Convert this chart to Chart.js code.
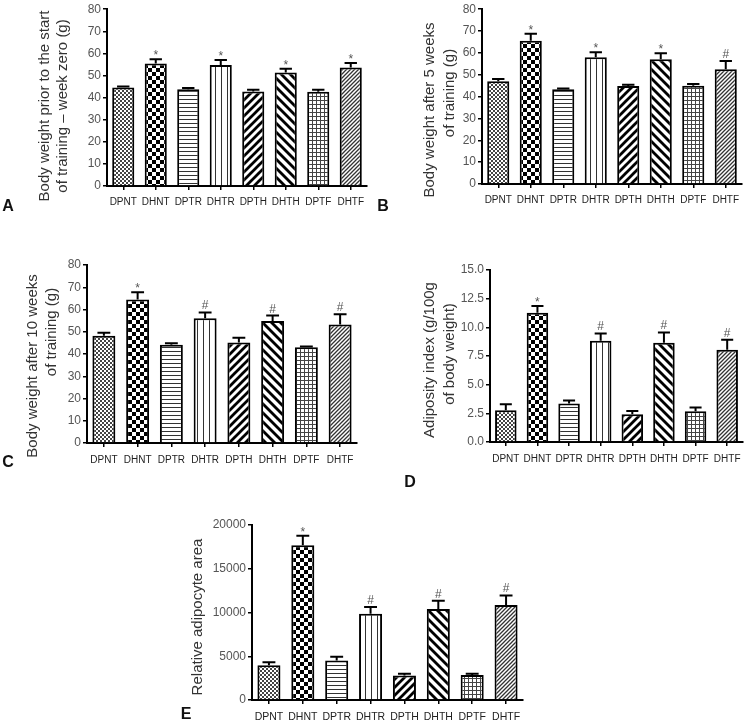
<!DOCTYPE html>
<html><head><meta charset="utf-8">
<script src="https://cdn.jsdelivr.net/npm/chart.js@4/dist/chart.umd.min.js"></script>
<style>
html,body{margin:0;padding:0;background:#fff;width:750px;height:728px;overflow:hidden;position:relative}
canvas{position:absolute}
.lbl{position:absolute;font:bold 16px 'Liberation Sans Narrow','Liberation Sans',Arial,sans-serif;color:#111;transform:translate(-50%,-50%);line-height:1}
</style></head><body>
<canvas id="cA" width="375" height="215" style="left:0;top:0"></canvas>
<canvas id="cB" width="375" height="215" style="left:375px;top:0"></canvas>
<canvas id="cC" width="375" height="230" style="left:0;top:240px"></canvas>
<canvas id="cD" width="375" height="230" style="left:375px;top:240px"></canvas>
<canvas id="cE" width="380" height="258" style="left:180px;top:470px"></canvas>
<div class="lbl" style="left:8px;top:206px">A</div>
<div class="lbl" style="left:383px;top:206px">B</div>
<div class="lbl" style="left:8px;top:462px">C</div>
<div class="lbl" style="left:410px;top:482px">D</div>
<div class="lbl" style="left:186px;top:714px">E</div>
<script>
// ---- data ----
const categories = ['DPNT','DHNT','DPTR','DHTR','DPTH','DHTH','DPTF','DHTF'];
const patterns   = ['fineCheck','bigCheck','hLines','vLines','diagUp','diagDown','grid','fineDiag'];

const weekZero     = [44.6, 55.4, 43.8, 54.8, 42.8, 51.4, 42.7, 53.6];
const weekZeroSem  = [0.4, 2.0, 0.5, 2.2, 0.7, 1.6, 0.8, 2.0];
const weekZeroMark = ['', '*', '', '*', '', '*', '', '*'];

const week5     = [47.0, 65.6, 43.4, 58.0, 44.9, 57.1, 45.0, 52.5];
const week5Sem  = [1.1, 3.2, 0.3, 2.3, 0.5, 2.7, 0.8, 3.8];
const week5Mark = ['', '*', '', '*', '', '*', '', '#'];

const week10     = [48.2, 64.5, 44.2, 56.1, 45.2, 54.8, 43.0, 53.3];
const week10Sem  = [1.4, 3.3, 0.6, 2.6, 2.1, 2.5, 0.4, 4.6];
const week10Mark = ['', '*', '', '#', '', '#', '', '#'];

const adiposity     = [2.77, 11.27, 3.35, 8.83, 2.42, 8.65, 2.68, 8.04];
const adipositySem  = [0.52, 0.59, 0.26, 0.64, 0.29, 0.90, 0.32, 0.87];
const adiposityMark = ['', '*', '', '#', '', '#', '', '#'];

const adipocyte     = [3985, 17685, 4516, 9867, 2808, 10398, 2846, 10854];
const adipocyteSem  = [341, 1100, 418, 759, 190, 949, 152, 1100];
const adipocyteMark = ['', '*', '', '#', '', '#', '', '#'];

const weightTicks    = [0,10,20,30,40,50,60,70,80];
const adiposityTicks = [0,2.5,5,7.5,10,12.5,15];
const adipocyteTicks = [0,5000,10000,15000,20000];

// ---- patterns ----
function makePattern(ctx, type){
  const c = document.createElement('canvas');
  const g = c.getContext('2d');
  function size(n){ c.width = c.height = n; g.fillStyle='#fff'; g.fillRect(0,0,n,n); }
  function diag(n, w, col, up){
    g.strokeStyle = col; g.lineWidth = w; g.lineCap='square';
    for (const o of [-n, 0, n]) {
      g.beginPath();
      if (up) { g.moveTo(o, n); g.lineTo(o + n, 0); }
      else    { g.moveTo(o, 0); g.lineTo(o + n, n); }
      g.stroke();
    }
  }
  switch(type){
    case 'fineCheck': size(4); g.fillStyle='#444'; g.fillRect(0,0,2,2); g.fillRect(2,2,2,2); break;
    case 'bigCheck':  size(8); g.fillStyle='#000'; g.fillRect(0,0,4,4); g.fillRect(4,4,4,4); break;
    case 'hLines':    size(4); g.fillStyle='#333'; g.fillRect(0,3,4,1); break;
    case 'vLines':    size(6); g.fillStyle='#333'; g.fillRect(5,0,1,6); break;
    case 'diagUp':    size(8); diag(8, 2.8, '#000', true); break;
    case 'diagDown':  size(9); diag(9, 2.8, '#000', false); break;
    case 'grid':      size(4); g.fillStyle='#444'; g.fillRect(0,0,4,1); g.fillRect(0,0,1,4); break;
    case 'fineDiag':  size(4); diag(4, 1.3, '#333', true); break;
  }
  return ctx.createPattern(c, 'repeat');
}

// ---- plugins ----
const errorBars = {
  id: 'errorBars',
  afterDatasetsDraw(chart){
    const ctx = chart.ctx, ys = chart.scales.y;
    chart.data.datasets.forEach((ds, di) => {
      const meta = chart.getDatasetMeta(di);
      meta.data.forEach((bar, i) => {
        const top = ys.getPixelForValue(ds.data[i] + ds.errors[i]);
        const half = bar.width * 0.28;
        ctx.save();
        ctx.strokeStyle = '#000'; ctx.lineWidth = 2;
        ctx.beginPath();
        ctx.moveTo(bar.x, bar.y); ctx.lineTo(bar.x, top);
        ctx.moveTo(bar.x - half, top); ctx.lineTo(bar.x + half, top);
        ctx.stroke();
        const m = ds.marks[i];
        if (m) {
          ctx.fillStyle = '#555';
          ctx.font = '12px "Liberation Sans", Arial, sans-serif';
          ctx.textAlign = 'center'; ctx.textBaseline = 'alphabetic';
          ctx.fillText(m, bar.x, m === '*' ? top + 0 : top - 3);
        }
        ctx.restore();
      });
    });
  }
};
const yTitles = {
  id: 'yTitles',
  afterDraw(chart, args, opts){
    const ctx = chart.ctx;
    ctx.save();
    ctx.fillStyle = '#333';
    ctx.font = '15px "Liberation Sans", Arial, sans-serif';
    ctx.textAlign = 'center'; ctx.textBaseline = 'middle';
    (opts.lines || []).forEach(l => {
      ctx.save(); ctx.translate(l.x, l.y); ctx.rotate(-Math.PI/2);
      ctx.fillText(l.text, 0, 0); ctx.restore();
    });
    ctx.restore();
  }
};

function build(id, cfg){
  const canvas = document.getElementById(id);
  const ctx = canvas.getContext('2d');
  const W = canvas.width, H = canvas.height, a = cfg.area;
  return new Chart(ctx, {
    type: 'bar',
    data: { labels: categories, datasets: [{
      data: cfg.values, errors: cfg.errors, marks: cfg.marks,
      backgroundColor: patterns.map(p => makePattern(ctx, p)),
      borderColor: '#000', borderWidth: 2, borderSkipped: 'bottom',
      barPercentage: 0.68, categoryPercentage: 1
    }]},
    options: {
      responsive: false, animation: false, devicePixelRatio: 1,
      layout: { padding: { left: 0, top: a.top, right: W - a.right, bottom: 0 } },
      plugins: { legend: {display:false}, tooltip: {enabled:false}, yTitles: { lines: cfg.titles } },
      scales: {
        x: {
          grid: { display: true, drawOnChartArea: false, offset: false, color: '#000', lineWidth: 1.5, tickLength: 4 },
          border: { display: true, color: '#000', width: 2 },
          ticks: { color: '#222', padding: cfg.xPad, maxRotation: 0, autoSkip: false,
                   font: { family: '"Liberation Sans Narrow", "Liberation Sans", Arial, sans-serif', size: cfg.xFont } },
          afterFit(s){ s.height = H - a.bottom; }
        },
        y: {
          min: cfg.ticks[0], max: cfg.ticks[cfg.ticks.length - 1],
          afterBuildTicks(s){ s.ticks = cfg.ticks.map(v => ({ value: v })); },
          grid: { display: true, drawOnChartArea: false, color: '#000', lineWidth: 1.5, tickLength: 4 },
          border: { display: true, color: '#000', width: 2 },
          ticks: { color: '#555', padding: 2, font: { family: '"Liberation Sans", Arial, sans-serif', size: 12 },
                   callback: cfg.fmt },
          afterFit(s){ s.width = a.left; }
        }
      }
    },
    plugins: [errorBars, yTitles]
  });
}

const intFmt = v => String(v);
build('cA', { values: weekZero, errors: weekZeroSem, marks: weekZeroMark, ticks: weightTicks, fmt: intFmt,
  area: {left:107, right:367, top:9, bottom:186}, xFont: 10, xPad: 6,
  titles: [{text:'Body weight prior to the start', x:45, y:106}, {text:'of training \u2013 week zero (g)', x:63, y:106}] });
build('cB', { values: week5, errors: week5Sem, marks: week5Mark, ticks: weightTicks, fmt: intFmt,
  area: {left:107, right:367, top:9, bottom:184}, xFont: 10, xPad: 6,
  titles: [{text:'Body weight after 5 weeks', x:55, y:110}, {text:'of training (g)', x:75, y:93}] });
build('cC', { values: week10, errors: week10Sem, marks: week10Mark, ticks: weightTicks, fmt: intFmt,
  area: {left:87, right:357, top:25, bottom:203}, xFont: 10, xPad: 7,
  titles: [{text:'Body weight after 10 weeks', x:33, y:126}, {text:'of training (g)', x:52, y:92}] });
build('cD', { values: adiposity, errors: adipositySem, marks: adiposityMark, ticks: adiposityTicks, fmt: v => Number(v).toFixed(1),
  area: {left:115, right:368, top:30, bottom:202}, xFont: 10, xPad: 7,
  titles: [{text:'Adiposity index (g/100g', x:55, y:120}, {text:'of body weight)', x:75, y:114}] });
build('cE', { values: adipocyte, errors: adipocyteSem, marks: adipocyteMark, ticks: adipocyteTicks, fmt: intFmt,
  area: {left:72, right:343, top:55, bottom:230}, xFont: 10.5, xPad: 7,
  titles: [{text:'Relative adipocyte area', x:18, y:147}] });
</script>
</body></html>
